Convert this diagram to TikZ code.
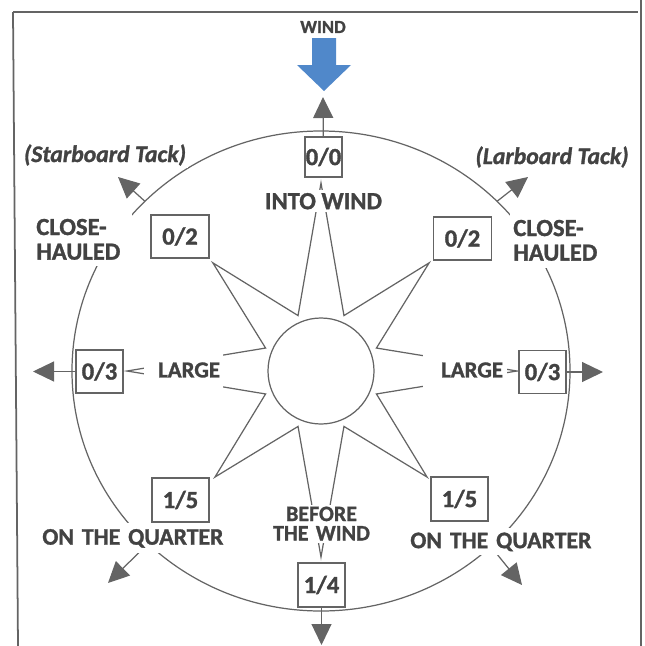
\documentclass[tikz,border=0pt]{standalone}
\usepackage{fontspec}
\setmainfont{Carlito}[BoldFeatures={FakeBold=1.2}, BoldItalicFeatures={FakeBold=1.2}]
\usetikzlibrary{arrows.meta, positioning, calc}
\definecolor{inkgray}{RGB}{66,66,66}
\definecolor{linegray}{RGB}{100,100,100}
\definecolor{windblue}{RGB}{80,136,202}
\tikzset{
  valbox/.style = {draw=linegray, line width=0.8pt, fill=white, text=inkgray,
                   font=\bfseries\fontsize{14}{16}\selectfont,
                   inner sep=0pt, minimum height=8.6mm},
  lbl/.style    = {fill=white, text=inkgray, inner sep=0.6mm,
                   font=\bfseries\fontsize{14}{14}\selectfont},
  tack/.style   = {fill=white, text=inkgray, inner sep=0.4mm,
                   font=\bfseries\itshape\fontsize{13.5}{14}\selectfont},
  ray/.style    = {draw=linegray, line width=0.7pt},
  arr/.style    = {ray, -{Triangle[length=4.2mm, width=4mm]}}
}

\begin{document}
\begin{tikzpicture}[x=0.2mm, y=-0.2mm]
  \useasboundingbox (0,0) rectangle (645,646);

  % ── Frame ─────────────────────────────────────────────────────────────────
  \draw[linegray, line width=1pt] (13,12) -- (638,12);
  \draw[linegray, line width=1pt] (13,12) -- (18,646);
  \draw[linegray, line width=1pt] (641,0) -- (641,646);

  \coordinate (C) at (321,371);

  % ── Outer ring ────────────────────────────────────────────────────────────
  \draw[ray] (C) ellipse [x radius=249, y radius=240];

  % tack and quarter arrows leave the ring
  \coordinate (SbFoot) at ($(C)+(225:249 and 240)$);
  \coordinate (SbTip)  at (118,177);
  \coordinate (LbFoot) at ($(C)+(315:249 and 240)$);
  \coordinate (LbTip)  at (528,177);
  \coordinate (QlFoot) at ($(C)+(134:249 and 240)$);
  \coordinate (QlTip)  at (108,583);
  \coordinate (QrFoot) at ($(C)+(47:249 and 240)$);
  \coordinate (QrTip)  at (522,585);
  \draw[arr] (SbFoot) -- (SbTip);
  \draw[arr] (LbFoot) -- (LbTip);
  \draw[arr] (QlFoot) -- (QlTip);
  \draw[arr] (QrFoot) -- (QrTip);

  % ── Star and hub ──────────────────────────────────────────────────────────
  \begin{scope}[shift={(C)}]
    \draw[ray] (270:188)
      \foreach \a/\r in {315/153, 360/196, 405/150, 450/186,
                         495/150, 540/194, 585/153}
        { -- ({\a-22.5}:60) -- (\a:\r) }
      -- (607.5:60) -- cycle;
    \draw[ray, fill=white] (0,0) circle [radius=53];
  \end{scope}

  % ── Wind ──────────────────────────────────────────────────────────────────
  \node[text=inkgray, font=\bfseries\fontsize{10.5}{12}\selectfont]
        (Wind) at (323,27) {WIND};
  \fill[windblue] (312,38) -- (336,38) -- (336,65) -- (351,65)
                  -- (324,91) -- (297,65) -- (312,65) -- cycle;

  % ── Labels ────────────────────────────────────────────────────────────────
  \node[tack] (Starboard) at (105,155) {(Starboard Tack)};
  \node[tack] (Larboard)  at (552,157) {(Larboard Tack)};

  \node[lbl, anchor=north west, align=left, text width=18.5mm,
        minimum height=10.8mm] (HauledL) at (33,212) {CLOSE-\\HAULED};
  \node[lbl, anchor=north west, align=left, text width=18.5mm,
        minimum height=11.2mm] (HauledR) at (510,212) {CLOSE-\\HAULED};

  \node[lbl, align=right, text width=14.6mm, minimum height=10mm,
        font=\bfseries\fontsize{13}{14}\selectfont] (LargeL) at (183.5,370) {LARGE};
  \node[lbl, align=right, text width=15.2mm, inner sep=0.8mm, minimum height=10mm,
        font=\bfseries\fontsize{13}{14}\selectfont] (LargeR) at (465,370) {LARGE};

  \node[lbl, anchor=north west, align=left, text width=39.4mm, inner sep=0.8mm,
        minimum height=6mm, font=\bfseries\fontsize{13.5}{14}\selectfont]
        (OnQuartL) at (38,523) {ON THE QUARTER};
  \node[lbl, anchor=north west, align=left, text width=36.6mm, inner sep=0.8mm,
        minimum height=5.4mm, font=\bfseries\fontsize{13.5}{14}\selectfont]
        (OnQuartR) at (406,528) {ON THE QUARTER};

  \node[lbl, align=center, text width=22mm, minimum height=7.6mm, inner sep=0.3mm,
        font=\bfseries\fontsize{12.5}{11}\selectfont]
        (Before) at (321.5,523.5) {BEFORE\\THE WIND};

  % ── Course boxes ──────────────────────────────────────────────────────────
  \node[valbox, minimum width=7.4mm, minimum height=8mm] (Top)    at (323.5,157) {0/0};
  \node[valbox, minimum width=11.6mm]                    (CloseL) at (180,236.5) {0/2};
  \node[valbox, minimum width=11.6mm]                    (CloseR) at (462.5,238.5) {0/2};
  \node[valbox, minimum width=9.4mm]                     (BeamL)  at (99.5,371.5) {0/3};
  \node[valbox, minimum width=9.4mm]                     (BeamR)  at (542.5,372) {0/3};
  \node[valbox, minimum width=11.4mm, minimum height=8.8mm] (QuartL) at (180.5,500) {1/5};
  \node[valbox, minimum width=11.4mm, minimum height=8.8mm] (QuartR) at (459.5,499) {1/5};
  \node[valbox, minimum width=9.4mm, minimum height=8.8mm]  (Run)    at (321.5,585) {1/4};

  \node[lbl, below=2.4mm of Top] (IntoWind) {INTO WIND};

  % ── Box arrows ────────────────────────────────────────────────────────────
  \coordinate (TopTip) at (323,97);
  \coordinate (WTip)   at (33,371.5);
  \coordinate (ETip)   at (603,372);
  \coordinate (RunTip) at (321.5,645);
  \draw[arr] (Top)   -- (TopTip);
  \draw[arr] (BeamL) -- (WTip);
  \draw[arr] (BeamR) -- (ETip);
  \draw[arr] (Run)   -- (RunTip);

\end{tikzpicture}
\end{document}
